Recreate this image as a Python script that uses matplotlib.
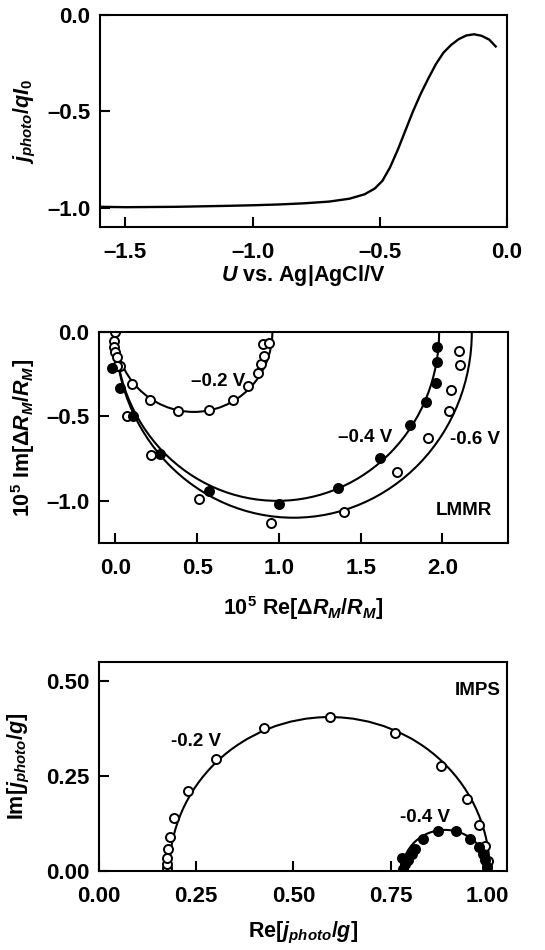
import matplotlib
matplotlib.use("Agg")
import matplotlib.pyplot as plt
from matplotlib.patches import Arc
from matplotlib.ticker import FuncFormatter

# ---- data ----
# photocurrent vs potential
u_volt = [-1.60, -1.50, -1.30, -1.10, -1.00, -0.90, -0.80, -0.70, -0.62, -0.56,
          -0.52, -0.49, -0.46, -0.43, -0.40, -0.37, -0.34, -0.31, -0.28, -0.25,
          -0.22, -0.19, -0.16, -0.13, -0.10, -0.07, -0.045]
j_norm = [-0.995, -0.997, -0.995, -0.990, -0.987, -0.983, -0.977, -0.968, -0.953, -0.930,
          -0.900, -0.860, -0.790, -0.700, -0.600, -0.500, -0.410, -0.330, -0.255, -0.195,
          -0.155, -0.125, -0.106, -0.100, -0.108, -0.128, -0.163]

# LMMR spectra (10^5 x)
lm02_re = [0.0, -0.01, -0.01, 0.0, 0.01, 0.03, 0.10, 0.21, 0.38, 0.57, 0.72, 0.81,
           0.87, 0.89, 0.91, 0.90, 0.94]
lm02_im = [0.0, -0.05, -0.09, -0.12, -0.15, -0.20, -0.31, -0.40, -0.47, -0.46, -0.40,
           -0.32, -0.24, -0.19, -0.14, -0.07, -0.065]
lm04_re = [-0.02, 0.03, 0.11, 0.27, 0.57, 1.00, 1.36, 1.62, 1.80, 1.90, 1.96, 1.97, 1.97]
lm04_im = [-0.21, -0.33, -0.50, -0.725, -0.94, -1.02, -0.925, -0.745, -0.55, -0.415,
           -0.30, -0.18, -0.09]
lm06_re = [0.01, 0.07, 0.22, 0.51, 0.95, 1.40, 1.72, 1.91, 2.04, 2.05, 2.11, 2.10]
lm06_im = [-0.20, -0.50, -0.73, -0.99, -1.13, -1.065, -0.83, -0.63, -0.465, -0.345,
           -0.195, -0.11]
# fitted arcs: centre, width, height
lm_fit_center = [0.48, 0.99, 1.09]
lm_fit_width = [0.96, 1.98, 2.18]
lm_fit_height = [0.946, 2.0, 2.2]

# IMPS spectra
imps02_re = [0.176, 0.174, 0.175, 0.178, 0.183, 0.194, 0.229, 0.300, 0.425, 0.595,
             0.762, 0.880, 0.947, 0.978, 0.994, 1.000, 0.998]
imps02_im = [0.008, 0.019, 0.035, 0.057, 0.090, 0.140, 0.210, 0.295, 0.375, 0.406,
             0.362, 0.277, 0.190, 0.122, 0.065, 0.026, 0.010]
imps04_re = [0.779, 0.783, 0.788, 0.796, 0.805, 0.813, 0.833, 0.872, 0.919, 0.955,
             0.977, 0.987, 0.994, 0.998]
imps04_im = [0.035, 0.006, 0.019, 0.028, 0.044, 0.059, 0.085, 0.104, 0.104, 0.085,
             0.063, 0.045, 0.028, 0.010]
imps_fit_center = [0.593, 0.89]
imps_fit_width = [0.824, 0.22]
imps_fit_height = [0.81, 0.216]

# ---- style ----
plt.rcParams["font.family"] = ["Liberation Sans", "DejaVu Sans"]
plt.rcParams["font.weight"] = "bold"
plt.rcParams["font.size"] = 16
plt.rcParams["mathtext.fontset"] = "custom"
plt.rcParams["mathtext.rm"] = "Liberation Sans:bold"
plt.rcParams["mathtext.it"] = "Liberation Sans:italic:bold"
plt.rcParams["mathtext.bf"] = "Liberation Sans:bold"
plt.rcParams["axes.linewidth"] = 1.5

TICK_FS = 16
LABEL_FS = 15.5
NOTE_FS = 13.5

fig = plt.figure(figsize=(5.45, 9.5), dpi=100)
ax1 = fig.add_axes([0.1835, 0.761, 0.747, 0.2232])
ax2 = fig.add_axes([0.1817, 0.4284, 0.750, 0.222])
ax3 = fig.add_axes([0.1817, 0.0832, 0.749, 0.220])


def dash_fmt(decimals):
    return FuncFormatter(lambda v, p: f"{v:.{decimals}f}".replace("-", "\u2013"))


def style(ax, decimals):
    ax.tick_params(direction="in", length=7, width=1.5, top=False, right=False,
                   labelsize=TICK_FS)
    ax.tick_params(axis="x", pad=11)
    ax.tick_params(axis="y", pad=7)
    ax.xaxis.set_major_formatter(dash_fmt(decimals))
    ax.yaxis.set_major_formatter(dash_fmt(decimals))
    for lab in ax.get_xticklabels() + ax.get_yticklabels():
        lab.set_fontweight("bold")
    ax.xaxis.label.set_va("center")
    ax.yaxis.label.set_va("center")


# panel 1
ax1.plot(u_volt, j_norm, color="black", lw=1.7)
ax1.set_xlim(-1.6, 0.0)
ax1.set_ylim(-1.1, 0.0)
ax1.set_xticks([-1.5, -1.0, -0.5, 0.0])
ax1.set_yticks([-1.0, -0.5, 0.0])
ax1.set_xlabel(r"$U$ vs. Ag|AgCl/V", fontweight="bold", fontsize=LABEL_FS)
ax1.set_ylabel(r"$j_{photo}/qI_0$", fontweight="bold", fontsize=LABEL_FS)
style(ax1, 1)
ax1.xaxis.set_label_coords(0.5, -48 / 212)
ax1.yaxis.set_label_coords(-0.185, 0.5)

# panel 2
mk = dict(ms=6.5, mew=1.4, ls="none")
ax2.plot(lm02_re, lm02_im, "o", mfc="white", mec="black", **mk)
ax2.plot(lm06_re, lm06_im, "o", mfc="white", mec="black", **mk)
ax2.plot(lm04_re, lm04_im, "o", mfc="black", mec="black", **mk)
for c, w, h in zip(lm_fit_center, lm_fit_width, lm_fit_height):
    ax2.add_patch(Arc((c, 0.0), w, h, theta1=180, theta2=360, color="black", lw=1.5))
ax2.text(0.63, -0.29, "\u20130.2 V", ha="center", va="center", fontsize=NOTE_FS, fontweight="bold")
ax2.text(1.53, -0.625, "\u20130.4 V", ha="center", va="center", fontsize=NOTE_FS, fontweight="bold")
ax2.text(2.20, -0.637, "-0.6 V", ha="center", va="center", fontsize=NOTE_FS, fontweight="bold")
ax2.text(2.13, -1.06, "LMMR", ha="center", va="center", fontsize=NOTE_FS, fontweight="bold")
ax2.set_xlim(-0.1, 2.4)
ax2.set_ylim(-1.25, 0.0)
ax2.set_xticks([0.0, 0.5, 1.0, 1.5, 2.0])
ax2.set_yticks([-1.0, -0.5, 0.0])
ax2.set_xlabel(r"10$^5$ Re[$\Delta R_M/R_M$]", fontweight="bold", fontsize=LABEL_FS)
ax2.set_ylabel(r"10$^5$ Im[$\Delta R_M/R_M$]", fontweight="bold", fontsize=LABEL_FS)
style(ax2, 1)
ax2.xaxis.set_label_coords(0.5, -65 / 211)
ax2.yaxis.set_label_coords(-0.185, 0.5)

# panel 3
ax3.plot(imps02_re, imps02_im, "o", mfc="white", mec="black", **mk)
ax3.plot(imps04_re, imps04_im, "o", mfc="black", mec="black", **mk)
for c, w, h in zip(imps_fit_center, imps_fit_width, imps_fit_height):
    ax3.add_patch(Arc((c, 0.0), w, h, theta1=0, theta2=180, color="black", lw=1.5))
ax3.text(0.25, 0.341, "-0.2 V", ha="center", va="center", fontsize=NOTE_FS, fontweight="bold")
ax3.text(0.839, 0.14, "-0.4 V", ha="center", va="center", fontsize=NOTE_FS, fontweight="bold")
ax3.text(1.033, 0.476, "IMPS", ha="right", va="center", fontsize=NOTE_FS, fontweight="bold")
ax3.set_xlim(0.0, 1.05)
ax3.set_ylim(0.0, 0.55)
ax3.set_xticks([0.0, 0.25, 0.5, 0.75, 1.0])
ax3.set_yticks([0.0, 0.25, 0.5])
ax3.set_xlabel(r"Re[$j_{photo}/g$]", fontweight="bold", fontsize=LABEL_FS)
ax3.set_ylabel(r"Im[$j_{photo}/g$]", fontweight="bold", fontsize=LABEL_FS)
style(ax3, 2)
ax3.xaxis.set_label_coords(0.5, -62 / 209)
ax3.yaxis.set_label_coords(-0.195, 0.5)

fig.savefig("out.png", dpi=100)
